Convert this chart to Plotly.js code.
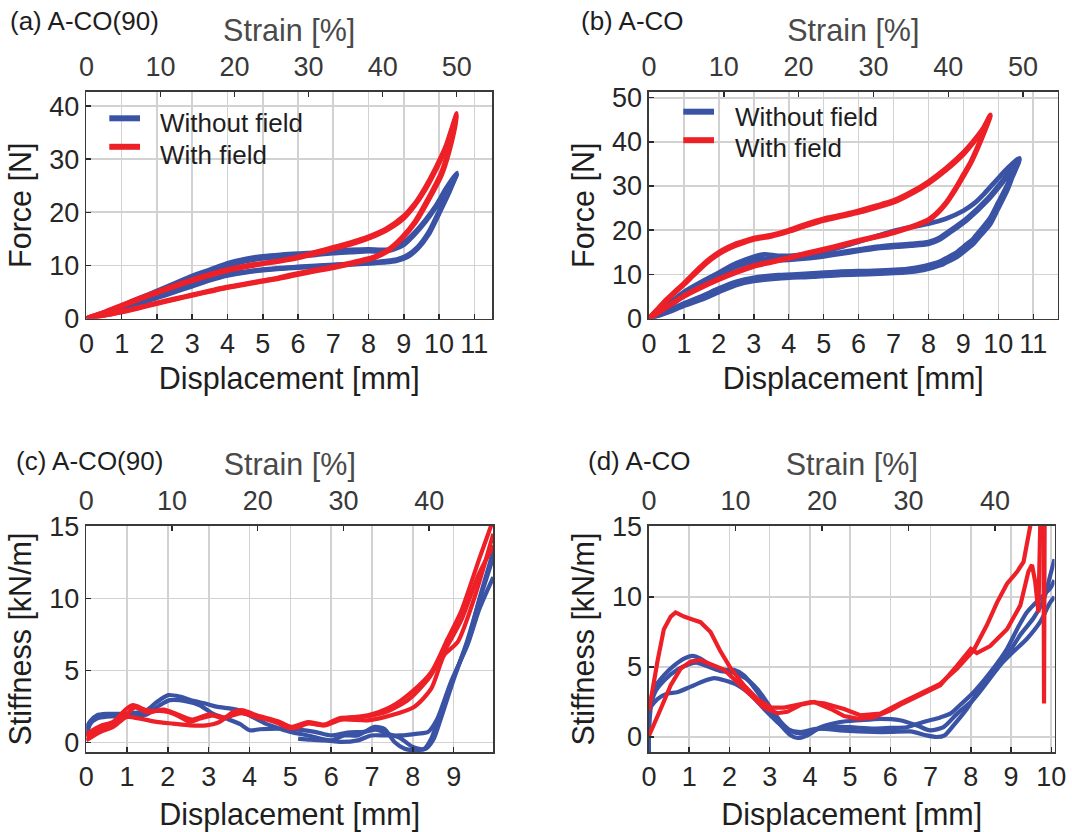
<!DOCTYPE html>
<html><head><meta charset="utf-8">
<script src="https://cdn.plot.ly/plotly-3.0.1.min.js"></script>
<style>html,body{margin:0;padding:0;background:#fff;}#chart{width:1072px;height:832px;}</style>
</head><body><div id="chart"></div>
<script>
// ---------- Panel (a): Force vs displacement, A-CO(90) ----------
const aBlueLoadX = [0,0.5,1,1.5,2,2.5,3,3.5,4,4.5,5,5.5,6,6.5,7,7.5,8,8.4,8.7,9.0,9.3,9.6,9.9,10.2,10.5];
const aBlue1LoadY = [0,1.1,2.4,3.8,5.2,6.6,8.0,9.2,10.4,11.2,11.7,12.0,12.2,12.4,12.7,12.9,13.0,12.9,13.2,14.3,16.1,18.4,21.1,24.5,27.4];
const aBlue2LoadY = [0,1.0,2.2,3.6,5.0,6.3,7.6,8.8,9.9,10.8,11.3,11.6,11.8,12.0,12.3,12.5,12.7,12.6,13.0,13.9,15.8,18.1,20.9,24.3,27.1];
const aBlueUnloadX = [10.3,10.0,9.7,9.4,9.1,8.8,8.5,8.0,7.5,7.0,6.5,6.0,5.5,5.0,4.5,4.0,3.5,3.0,2.5,2.0,1.5,1.0,0.5,0];
const aBlue1UnloadY = [24.0,19.8,15.8,13.2,11.6,10.9,10.6,10.4,10.2,10.0,9.8,9.6,9.4,9.1,8.7,8.1,7.2,6.1,5.0,3.9,2.8,1.8,0.8,0];
const aBlue2UnloadY = [24.3,20.2,16.2,13.5,11.9,11.1,10.8,10.5,10.3,10.1,9.9,9.7,9.5,9.2,8.8,8.3,7.4,6.3,5.2,4.0,2.9,1.9,0.9,0];
const aRedLoadX = [0,0.5,1,1.5,2,2.5,3,3.5,4,4.5,5,5.5,6,6.5,7,7.5,8,8.5,9,9.3,9.6,9.9,10.2,10.5];
const aRed1LoadY = [0,1.2,2.5,3.8,5.0,6.2,7.3,8.3,9.2,9.9,10.4,10.9,11.6,12.5,13.4,14.3,15.4,16.9,19.3,21.5,24.6,28.3,32.6,38.6];
const aRed2LoadY = [0,1.1,2.3,3.6,4.8,6.0,7.1,8.1,9.0,9.7,10.3,10.8,11.4,12.2,13.1,14.0,15.1,16.6,18.9,21.2,24.2,27.9,32.2,38.2];
const aRedUnloadX = [10.36,10.08,9.7,9.32,8.94,8.57,8.19,7.7,7.24,6.8,6.3,5.8,5.35,4.9,4.5,3.98,3.5,3.03,2.5,1.99,1.5,1.05,0.5,0];
const aRed1UnloadY = [34.0,27.7,22.7,18.3,15.2,13.0,11.7,10.8,10.1,9.5,8.9,8.2,7.5,7.0,6.5,5.9,5.2,4.5,3.7,2.9,2.1,1.4,0.6,0];
const aRed2UnloadY = [33.4,27.2,22.3,18.0,15.0,12.8,11.5,10.6,9.9,9.3,8.7,8.0,7.4,6.9,6.4,5.8,5.1,4.4,3.6,2.8,2.0,1.3,0.6,0];

// ---------- Panel (b): Force vs displacement, A-CO ----------
const bRedLoadX = [0,0.25,0.5,0.75,1.0,1.25,1.5,1.75,2.0,2.25,2.5,2.75,3.0,3.5,4.0,4.5,5.0,5.5,6.0,6.5,7.0,7.5,8.0,8.5,9.0,9.3,9.55,9.77];
const bRed1LoadY = [0,2.2,4.3,6.2,8.0,10.0,11.9,13.6,15.0,16.1,17.0,17.6,18.2,18.9,20.0,21.4,22.6,23.4,24.4,25.5,26.7,28.6,31.0,34.0,37.6,40.3,42.9,46.1];
const bRed2LoadY = [0,2.0,4.0,5.9,7.7,9.6,11.5,13.2,14.6,15.7,16.6,17.3,17.9,18.6,19.7,21.0,22.2,23.1,24.0,25.1,26.3,28.2,30.6,33.6,37.2,40.0,42.6,45.8];
const bRedUnloadX = [9.6,9.4,9.2,9.0,8.75,8.5,8.25,8.0,7.5,7.0,6.5,6.0,5.5,5.0,4.5,4.0,3.5,3.0,2.5,2.0,1.5,1.0,0.5,0];
const bRed1UnloadY = [42.6,38.8,35.3,32.6,29.2,26.2,24.0,22.4,20.8,19.6,18.6,17.7,16.7,15.7,14.8,13.8,12.9,12.0,10.6,9.0,7.2,5.2,2.6,0];
const bRed2UnloadY = [42.2,38.4,35.0,32.2,28.9,26.0,23.8,22.2,20.6,19.4,18.4,17.5,16.5,15.5,14.6,13.6,12.7,11.8,10.4,8.8,7.0,5.0,2.5,0];
const bBlue1LoadX = [0,0.5,1,1.5,2,2.5,3,3.3,3.7,4.2,5,5.5,6,6.5,7,7.5,8,8.5,9,9.3,9.6,10,10.3,10.6];
const bBlue1LoadY = [0,2.9,6.0,8.3,10.4,12.5,14.0,14.5,14.2,14.3,15.2,16.2,17.4,18.6,19.8,20.7,21.5,22.6,24.4,26.0,28.3,31.8,34.3,36.3];
const bBlueLoadX = [0,0.5,1,1.5,2,2.5,3,3.5,4,4.5,5,5.5,6,6.5,7,7.5,8,8.3,8.6,9.1,9.7,10.25,10.6];
const bBlue2LoadY = [0,2.6,5.4,7.9,10.0,12.0,13.2,13.5,13.6,13.9,14.4,15.0,15.6,16.2,16.6,16.9,17.3,18.2,19.8,22.7,27.2,32.5,36.0];
const bBlue3LoadY = [0,2.4,5.1,7.6,9.7,11.7,12.9,13.2,13.3,13.6,14.1,14.7,15.3,15.9,16.2,16.5,16.9,17.8,19.4,22.3,26.8,32.1,35.8];
const bBlueUnloadX = [10.4,10.25,10,9.77,9.5,9.29,9,8.82,8.5,8.34,7.86,7.38,6.43,5.5,4.7,3.7,3,2.5,2,1.5,1,0.5,0];
const bBlue1UnloadY = [32.5,29.5,25.5,21.9,19.3,17.4,15.5,14.3,13.0,12.4,11.3,10.7,10.3,10.2,9.8,9.4,8.8,7.9,6.3,4.6,3.1,1.4,0];
const bBlue2UnloadY = [32.9,30.1,26.3,22.8,20.1,18.1,16.2,15.0,13.6,12.9,11.8,11.2,10.8,10.6,10.2,9.8,9.2,8.3,6.8,5.0,3.4,1.6,0];
const bBlue3UnloadY = [32.0,29.0,25.0,21.4,18.9,17.0,15.1,14.0,12.7,12.1,11.0,10.5,10.1,9.9,9.5,9.1,8.5,7.6,6.0,4.3,2.9,1.3,0];

// ---------- Panel (c): Stiffness, A-CO(90) ----------
const cBlue1X = [0,0.1,0.26,0.5,0.99,1.48,1.72,2.01,2.29,2.62,2.94,3.19,3.68,3.92,4.2,4.41,4.74,5.0,5.43,6.0,6.32,6.65,7.06,7.3,7.55,7.8,8.04,8.28,8.45,8.69,9.02,9.34,9.63,9.97];
const cBlue1Y = [1.0,1.5,1.9,2.0,2.0,2.25,2.8,3.3,3.2,2.9,2.7,2.5,2.3,2.0,1.6,1.3,0.97,0.74,0.5,0.16,0.5,0.5,1.09,0.97,0.05,-0.42,-0.53,-0.42,0.28,2.13,4.68,7.0,10.0,13.3];
const cBlue2X = [0,0.1,0.26,0.5,0.99,1.48,1.8,2.05,2.46,2.78,3.11,3.43,3.76,4.0,4.25,4.74,5.2,5.6,6.0,6.4,6.8,7.1,7.4,7.7,8.0,8.3,8.5,8.7,9.0,9.3,9.6,9.97];
const cBlue2Y = [0.5,1.3,1.67,1.8,1.85,1.95,2.6,2.95,2.87,2.6,2.0,1.67,1.3,0.86,0.93,0.97,0.9,0.75,0.5,0.7,0.75,0.9,0.6,0.3,-0.3,-0.45,0.2,1.8,4.4,6.8,9.6,12.9];
const cBlue3X = [5.19,5.5,5.84,6.25,6.65,6.98,7.3,7.71,8.12,8.37,8.6,8.93,9.34,9.63,9.97];
const cBlue3Y = [0.28,0.2,0.16,0.05,0.16,0.5,0.5,0.5,0.63,0.74,1.67,4.2,6.8,9.3,11.5];
const cRed1X = [0,0.34,0.66,0.99,1.15,1.48,1.8,2.05,2.29,2.54,2.78,3.11,3.35,3.68,3.92,4.25,4.62,5.02,5.43,5.84,6.25,6.9,7.47,7.96,8.45,8.85,9.18,9.63,9.92];
const cRed1Y = [0.6,1.15,1.45,2.36,2.6,2.25,2.2,2.1,1.8,1.45,1.67,1.9,1.67,2.13,2.0,1.8,1.43,1.09,1.43,1.25,1.67,1.9,2.5,3.5,4.9,7.2,9.1,12.8,15.1];
const cRed2X = [0,0.34,0.66,0.99,1.32,1.72,2.13,2.54,2.94,3.27,3.6,3.84,4.17,4.74,5.1,5.45,5.84,6.25,6.9,7.47,8.04,8.45,8.77,9.1,9.5,9.97];
const cRed2Y = [0.16,0.74,1.09,1.78,1.67,1.44,1.32,1.2,1.2,1.44,2.13,2.25,1.9,1.44,1.0,1.35,1.2,1.6,1.55,1.9,2.5,3.75,6.1,7.0,10.0,14.5];
const cRed3X = [0,0.3,0.7,1.0,1.2,1.5,1.9,2.2,2.6,3.0,3.4,3.8,4.2,4.6,5.0,5.4,5.8,6.2,6.8,7.4,7.9,8.4,8.8,9.2,9.6,9.97];
const cRed3Y = [0.4,0.9,1.3,2.0,2.45,2.1,2.3,2.0,1.6,1.95,1.75,2.05,1.75,1.5,1.0,1.35,1.2,1.7,1.8,2.2,3.0,4.5,6.5,8.6,11.6,13.7];

// ---------- Panel (d): Stiffness, A-CO ----------
const dRed1X = [0,0.1,0.21,0.37,0.54,0.66,0.87,1.08,1.28,1.53,1.78,2.03,2.36,2.7,3.03,3.36,3.69,4.02,4.35,4.85,5.25,5.75,6.24,6.74,7.24,7.66,8.07,8.4,8.65,8.9,9.15,9.31,9.39,9.48,9.6,9.8,9.82,9.84];
const dRed1Y = [1.9,3.6,5.4,7.7,8.6,8.9,8.6,8.4,8.2,7.5,6.1,4.9,3.7,2.7,2.1,2.1,2.3,2.5,2.4,2.0,1.55,1.67,2.4,3.1,3.8,4.9,6.2,8.0,9.6,10.95,11.8,12.5,13.7,15.1,20,20,2.4,20];
const dRed2X = [0,0.15,0.29,0.54,0.79,1.04,1.28,1.53,1.87,2.2,2.53,2.86,3.19,3.44,3.77,4.11,4.52,4.85,5.2,5.58,6.0,6.24,6.74,7.24,7.66,8.0,8.15,8.48,8.9,9.23,9.43,9.52,9.6,9.68,9.76];
const dRed2Y = [0.1,1.0,2.0,3.7,4.9,5.4,5.5,5.2,4.8,3.9,3.0,2.1,1.7,1.8,2.3,2.5,2.0,1.5,1.3,1.4,1.9,2.3,3.0,3.7,5.1,6.3,6.0,6.5,7.7,9.4,11.8,12.3,11.1,8.9,20];
const dBlue1X = [0,0,0.02,0.12,0.37,0.62,0.87,1.08,1.28,1.53,1.78,2.11,2.36,2.7,3.03,3.28,3.52,3.69,3.94,4.27,4.75,5.25,5.75,6.24,6.66,6.99,7.32,7.66,8.07,8.48,8.9,9.23,9.56,9.81,9.97,10.08];
const dBlue1Y = [-1.5,1.0,2.0,3.45,4.4,5.1,5.6,5.8,5.6,5.1,4.8,4.8,4.4,3.2,1.8,0.83,0.12,-0.07,0.12,0.7,1.07,1.2,1.3,1.2,0.83,0.48,0.71,1.67,2.7,4.2,5.8,7.3,8.5,9.8,11.5,12.7];
const dBlue2X = [0,0.05,0.15,0.4,0.7,1.0,1.2,1.5,1.8,2.1,2.4,2.7,3.0,3.3,3.55,3.8,4.1,4.5,5.0,5.58,6.0,6.41,6.82,7.24,7.49,7.74,8.07,8.48,8.9,9.15,9.39,9.72,9.97,10.08];
const dBlue2Y = [0.5,2.2,3.2,4.1,4.8,5.2,5.3,5.0,4.7,4.6,4.2,3.4,2.2,1.0,0.4,0.25,0.5,0.75,0.7,0.6,0.65,0.7,1.07,1.4,1.67,2.3,3.2,4.6,6.3,7.7,8.9,9.9,10.6,11.2];
const dBlue3X = [0,0.21,0.46,0.7,1.04,1.37,1.62,1.87,2.2,2.53,2.86,3.19,3.44,3.77,4.19,4.75,5.2,5.58,6.0,6.5,6.9,7.15,7.35,7.57,7.9,8.23,8.65,9.06,9.39,9.72,9.97,10.08];
const dBlue3Y = [2.0,2.7,3.1,3.2,3.6,4.0,4.2,4.05,3.7,3.0,2.0,1.07,0.55,0.36,0.6,0.48,0.4,0.36,0.36,0.4,0.12,0.0,0.12,0.83,2.0,3.45,4.9,6.1,7.0,8.2,9.6,10.0];

// ---------- Text ----------
const panelLabels = ['(a) A-CO(90)', '(b) A-CO', '(c) A-CO(90)', '(d) A-CO'];
const legendNames = ['Without field', 'With field'];
const xTitle = 'Displacement [mm]';
const topTitle = 'Strain [%]';
const forceTitle = 'Force [N]';
const stiffTitle = 'Stiffness [kN/m]';

// ---------- Styling ----------
const FONT = 'Liberation Sans, Arial, Helvetica, sans-serif';
const BLUE = '#3A53A4';
const RED = '#EE2027';

function tr(x, y, color, xa, ya, lw, shape) {
  return {x: x, y: y, type: 'scatter', mode: 'lines', xaxis: xa, yaxis: ya,
    line: {color: color, width: lw, shape: shape || 'spline', smoothing: 0.7},
    showlegend: false, hoverinfo: 'skip'};
}
// empty carrier trace so that the top (strain) axis of each panel gets drawn
function carrier(xa, ya) {
  return {x: [], y: [], type: 'scatter', mode: 'lines', xaxis: xa, yaxis: ya,
    showlegend: false, hoverinfo: 'skip', line: {width: 0}};
}
const cat = (a, b) => a.concat(b);
const LF = 4.8, LS = 4.2;

const traces = [
  tr(cat(aBlueLoadX, aBlueUnloadX), cat(aBlue1LoadY, aBlue1UnloadY), BLUE, 'x', 'y', LF),
  tr(cat(aBlueLoadX, aBlueUnloadX), cat(aBlue2LoadY, aBlue2UnloadY), BLUE, 'x', 'y', LF),
  tr(cat(aRedLoadX, aRedUnloadX), cat(aRed1LoadY, aRed1UnloadY), RED, 'x', 'y', LF),
  tr(cat(aRedLoadX, aRedUnloadX), cat(aRed2LoadY, aRed2UnloadY), RED, 'x', 'y', LF),

  tr(cat(bBlue1LoadX, bBlueUnloadX), cat(bBlue1LoadY, bBlue1UnloadY), BLUE, 'x2', 'y2', LF),
  tr(cat(bBlueLoadX, bBlueUnloadX), cat(bBlue2LoadY, bBlue2UnloadY), BLUE, 'x2', 'y2', LF),
  tr(cat(bBlueLoadX, bBlueUnloadX), cat(bBlue3LoadY, bBlue3UnloadY), BLUE, 'x2', 'y2', LF),
  tr(cat(bRedLoadX, bRedUnloadX), cat(bRed1LoadY, bRed1UnloadY), RED, 'x2', 'y2', LF),
  tr(cat(bRedLoadX, bRedUnloadX), cat(bRed2LoadY, bRed2UnloadY), RED, 'x2', 'y2', LF),

  tr(cBlue1X, cBlue1Y, BLUE, 'x3', 'y3', LS),
  tr(cBlue2X, cBlue2Y, BLUE, 'x3', 'y3', LS),
  tr(cBlue3X, cBlue3Y, BLUE, 'x3', 'y3', LS),
  tr(cRed1X, cRed1Y, RED, 'x3', 'y3', LS),
  tr(cRed2X, cRed2Y, RED, 'x3', 'y3', LS),
  tr(cRed3X, cRed3Y, RED, 'x3', 'y3', LS),

  tr(dBlue1X, dBlue1Y, BLUE, 'x4', 'y4', LS),
  tr(dBlue2X, dBlue2Y, BLUE, 'x4', 'y4', LS),
  tr(dBlue3X, dBlue3Y, BLUE, 'x4', 'y4', LS),
  tr(dRed1X, dRed1Y, RED, 'x4', 'y4', LS, 'linear'),
  tr(dRed2X, dRed2Y, RED, 'x4', 'y4', LS, 'linear'),

  carrier('x5', 'y'), carrier('x6', 'y2'), carrier('x7', 'y3'), carrier('x8', 'y4')
];

const W = 1072, H = 832;
const px = v => v / W, py = v => 1 - v / H;
const TICKF = {family: FONT, size: 27, color: '#262626'};
const TITLEF = {family: FONT, size: 30.5, color: '#1e1e1e'};

function bottomX(dom, anchor, range, standoff) {
  return {domain: dom, anchor: anchor, range: range, dtick: 1, tick0: 0,
    ticks: 'inside', ticklen: 5, tickwidth: 1.5, tickcolor: '#2a2a2a',
    showline: true, mirror: true, linecolor: '#3a3a3a', linewidth: 1.6,
    showgrid: true, gridcolor: '#d2d2d2', gridwidth: 1.6, zeroline: false,
    tickfont: TICKF, title: {text: xTitle, font: TITLEF, standoff: standoff}};
}
function leftY(dom, anchor, range, dtick, title) {
  return {domain: dom, anchor: anchor, range: range, dtick: dtick, tick0: 0,
    ticks: 'inside', ticklen: 5, tickwidth: 1.5, tickcolor: '#2a2a2a',
    showline: true, mirror: true, linecolor: '#3a3a3a', linewidth: 1.6,
    showgrid: true, gridcolor: '#d2d2d2', gridwidth: 1.6, zeroline: false,
    tickfont: TICKF, title: {text: title, font: TITLEF, standoff: 8}};
}
function topX(over, anchor, range) {
  return {overlaying: over, anchor: anchor, side: 'top', range: range, dtick: 10, tick0: 0,
    ticks: 'inside', ticklen: 5, tickwidth: 1.5, tickcolor: '#2a2a2a',
    showline: false, showgrid: false, zeroline: false, ticklabelstandoff: 10,
    tickfont: {family: FONT, size: 27, color: '#383838'},
    title: {text: topTitle, font: {family: FONT, size: 30.5, color: '#4a4a4a'}, standoff: 0}};
}

const domA = [px(86.4), px(492)], domB = [px(649), px(1057.7)];
const domC = [px(86.2), px(493.3)], domD = [px(649), px(1054.5)];
const rowTop = [py(318.5), py(92)], rowBot = [py(752), py(526)];

const annotations = [];
const labelPos = [[8, 21], [579, 21], [13.5, 461], [585.5, 461]];
panelLabels.forEach((t, i) => annotations.push({text: t, xref: 'paper', yref: 'paper',
  x: px(labelPos[i][0]), y: py(labelPos[i][1]), xanchor: 'left', yanchor: 'middle',
  showarrow: false, font: {family: FONT, size: 26, color: '#1e1e1e'}}));

const shapes = [];
const legends = [
  {x0: 109.3, x1: 140, ys: [118.3, 146.8], tx: 158, ty: [123.4, 155.1]},
  {x0: 683.3, x1: 714, ys: [111.7, 140.2], tx: 733, ty: [117.4, 148.4]}
];
legends.forEach(L => {
  [BLUE, RED].forEach((c, k) => {
    shapes.push({type: 'line', xref: 'paper', yref: 'paper', x0: px(L.x0), x1: px(L.x1),
      y0: py(L.ys[k]), y1: py(L.ys[k]), line: {color: c, width: 6}});
    annotations.push({text: legendNames[k], xref: 'paper', yref: 'paper', x: px(L.tx), y: py(L.ty[k]),
      xanchor: 'left', yanchor: 'middle', showarrow: false,
      font: {family: FONT, size: 26, color: '#1e1e1e'}});
  });
});

const layout = {
  width: W, height: H, margin: {l: 0, r: 0, t: 0, b: 0},
  paper_bgcolor: '#fff', plot_bgcolor: '#fff', showlegend: false,
  font: {family: FONT},
  xaxis: bottomX(domA, 'y', [0, 11.5], 10),
  yaxis: leftY(rowTop, 'x', [0, 42.65], 10, forceTitle),
  xaxis2: bottomX(domB, 'y2', [0, 11.7], 10),
  yaxis2: leftY(rowTop, 'x2', [0, 51.3], 10, forceTitle),
  xaxis3: bottomX(domC, 'y3', [0, 9.97], 15),
  yaxis3: leftY(rowBot, 'x3', [-0.65, 15.05], 5, stiffTitle),
  xaxis4: bottomX(domD, 'y4', [0, 10.08], 15),
  yaxis4: leftY(rowBot, 'x4', [-1.07, 15.07], 5, stiffTitle),
  xaxis5: topX('x', 'y', [0, 54.76]),
  xaxis6: topX('x2', 'y2', [0, 54.63]),
  xaxis7: topX('x3', 'y3', [0, 47.48]),
  xaxis8: topX('x4', 'y4', [0, 46.87]),
  annotations: annotations, shapes: shapes
};

Plotly.newPlot('chart', traces, layout, {staticPlot: true, displayModeBar: false});
</script></body></html>
